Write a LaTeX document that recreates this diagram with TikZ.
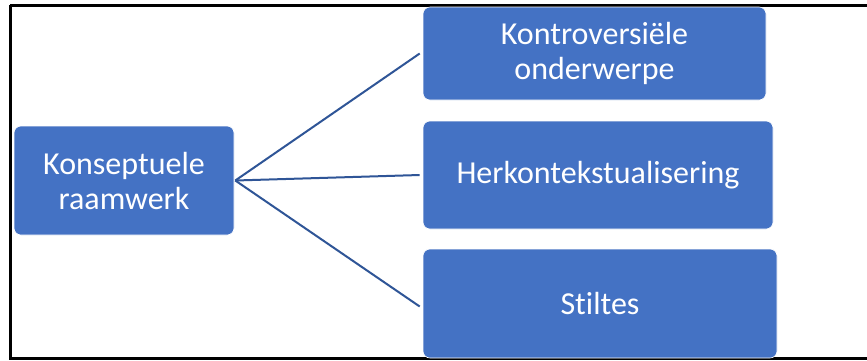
\documentclass[tikz,border=0pt]{standalone}
\usepackage{fontspec}
\setmainfont[Ligatures=NoCommon]{Carlito}
\definecolor{boxblue}{HTML}{4472C4}
\definecolor{linkblue}{HTML}{2F5597}
\begin{document}
\begin{tikzpicture}[x=1pt,y=-1pt,
  box/.style={fill=boxblue,draw=white,line width=0.6pt,rounded corners=7pt,text=white,align=center,
    font=\fontsize{32}{35}\selectfont,inner sep=0pt},
  link/.style={draw=linkblue,line width=2pt}]
\useasboundingbox (0,0) rectangle (867,360);
\fill[white] (0,0) rectangle (867,360);
\draw[line width=3pt,black] (10,5) -- (870,5) (10,5) -- (10,358) -- (870,358);
\node[box,minimum width=220pt,minimum height=109pt] (L) at (124,180.5) {Konseptuele\\raamwerk};
\node[box,minimum width=343pt,minimum height=93pt] (A) at (594.5,53.5) {Kontroversiële\\onderwerpe};
\node[box,minimum width=350pt,minimum height=108pt] (B) at (598,175) {Herkontekstualisering};
\node[box,minimum width=354pt,minimum height=109pt] (C) at (600,303.5) {Stiltes};
\coordinate (S) at ([xshift=1pt]L.east);
\coordinate (Ae) at ([xshift=-3pt]A.west);
\coordinate (Be) at ([xshift=-3pt]B.west);
\coordinate (Ce) at ([xshift=-3pt,yshift=-3pt]C.west);
\draw[link] (S) -- (Ae);
\draw[link] (S) -- (Be);
\draw[link] (S) -- (Ce);
\end{tikzpicture}
\end{document}
